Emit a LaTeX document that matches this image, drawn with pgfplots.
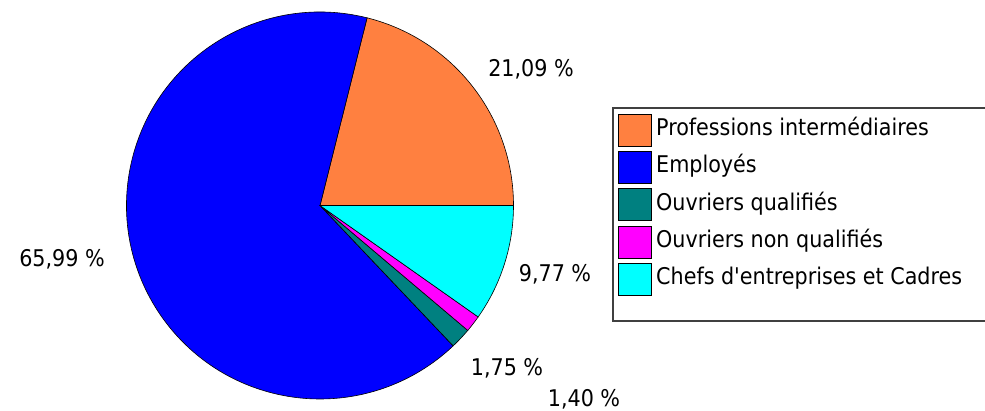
\documentclass[border=0pt]{standalone}
\usepackage{pgfplots}
\pgfplotsset{compat=1.18}
\usepackage{fontspec}
\setmainfont{DejaVu Sans Condensed}

\definecolor{cProf}{RGB}{255,128,64}
\definecolor{cEmpl}{RGB}{0,0,255}
\definecolor{cOQ}{RGB}{0,128,128}
\definecolor{cONQ}{RGB}{255,0,255}
\definecolor{cChef}{RGB}{0,255,255}
\definecolor{frame}{RGB}{64,64,64}

\tikzset{
  slice/.style={draw=black, line width=0.6bp},
  sw/.style={draw=black, line width=0.8bp},
  lab/.style={font=\fontsize{23bp}{28bp}\selectfont, inner sep=0pt},
}

\begin{document}
\begin{tikzpicture}
% shares in percent, in drawing order (counter-clockwise from east)
\def\pProf{21.09}
\def\pEmpl{65.99}
\def\pOQ{1.75}
\def\pONQ{1.40}
\def\pChef{9.77}
\pgfmathsetmacro\aA{0}
\pgfmathsetmacro\aB{\aA+3.6*\pProf}
\pgfmathsetmacro\aC{\aB+3.6*\pEmpl}
\pgfmathsetmacro\aD{\aC+3.6*\pOQ}
\pgfmathsetmacro\aE{\aD+3.6*\pONQ}
\pgfmathsetmacro\aF{\aE+3.6*\pChef}
\def\R{193.5bp}

\begin{axis}[
  at={(0,0)}, anchor=south west,
  scale only axis, width=985bp, height=411bp,
  xmin=0, xmax=985, ymin=0, ymax=411,
  hide axis, clip=false,
]
\filldraw[slice, fill=cProf] (axis cs:320,205.5) -- ++(\aA:\R) arc[start angle=\aA, end angle=\aB, radius=\R] -- cycle;
\filldraw[slice, fill=cEmpl] (axis cs:320,205.5) -- ++(\aB:\R) arc[start angle=\aB, end angle=\aC, radius=\R] -- cycle;
\filldraw[slice, fill=cOQ]   (axis cs:320,205.5) -- ++(\aC:\R) arc[start angle=\aC, end angle=\aD, radius=\R] -- cycle;
\filldraw[slice, fill=cONQ]  (axis cs:320,205.5) -- ++(\aD:\R) arc[start angle=\aD, end angle=\aE, radius=\R] -- cycle;
\filldraw[slice, fill=cChef] (axis cs:320,205.5) -- ++(\aE:\R) arc[start angle=\aE, end angle=\aF, radius=\R] -- cycle;

% value labels
\node[lab, anchor=base] at (axis cs:531,334) {21,09 \%};
\node[lab, anchor=base] at (axis cs:62,144) {65,99 \%};
\node[lab, anchor=base] at (axis cs:555,129) {9,77 \%};
\node[lab, anchor=base] at (axis cs:507,35) {1,75 \%};
\node[lab, anchor=base] at (axis cs:584,5) {1,40 \%};

% legend
\draw[frame, line width=1.2bp] (axis cs:613,303) rectangle (axis cs:1000,90);
\filldraw[sw, fill=cProf] (axis cs:618,297) rectangle (axis cs:651,265);
\filldraw[sw, fill=cEmpl] (axis cs:618,260) rectangle (axis cs:651,228);
\filldraw[sw, fill=cOQ]   (axis cs:618,223) rectangle (axis cs:651,191);
\filldraw[sw, fill=cONQ]  (axis cs:618,185) rectangle (axis cs:651,153);
\filldraw[sw, fill=cChef] (axis cs:618,148) rectangle (axis cs:651,116);
\node[lab, anchor=base west] at (axis cs:656,275) {Professions intermédiaires};
\node[lab, anchor=base west] at (axis cs:656,238) {Employés};
\node[lab, anchor=base west] at (axis cs:656,200.5) {Ouvriers qualifiés};
\node[lab, anchor=base west] at (axis cs:656,163) {Ouvriers non qualifiés};
\node[lab, anchor=base west] at (axis cs:656,126) {Chefs d\textquotesingle entreprises et Cadres};
\end{axis}
\pgfresetboundingbox
\useasboundingbox (0,0) rectangle (985bp,411bp);
\end{tikzpicture}
\end{document}
